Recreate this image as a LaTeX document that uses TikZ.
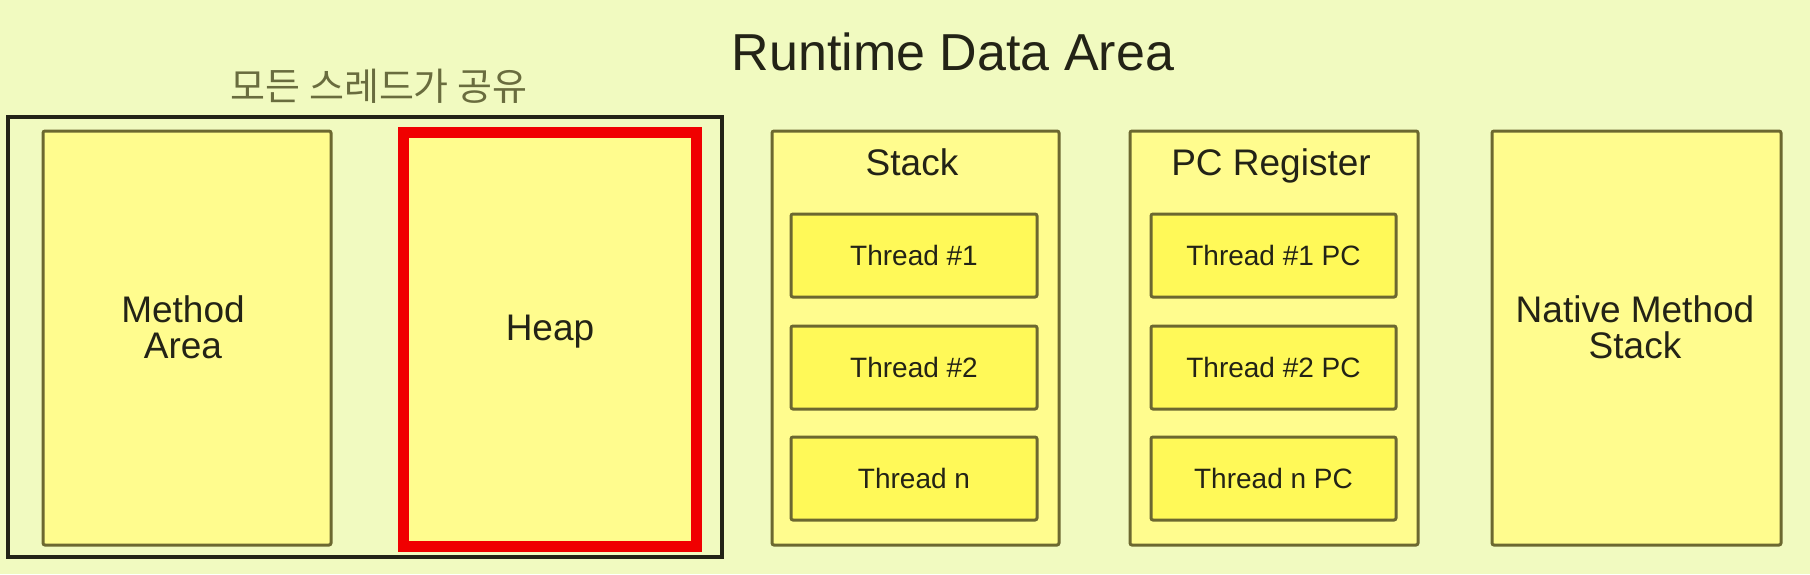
\documentclass[tikz,border=0pt]{standalone}
\usepackage{fontspec}
\setmainfont{Liberation Sans}
\newfontfamily\krfont{Noto Sans CJK KR}
\definecolor{bgYellow}{RGB}{241,250,192}
\definecolor{areaYellow}{RGB}{255,252,142}
\definecolor{threadYellow}{RGB}{255,249,88}
\definecolor{oliveLine}{RGB}{108,104,48}
\definecolor{inkDark}{RGB}{35,35,22}
\definecolor{sharedGray}{RGB}{105,108,62}
\definecolor{heapRed}{RGB}{240,0,0}

\begin{document}
\begin{tikzpicture}[x=1pt,y=-1pt,
  area/.style={rectangle,draw=oliveLine,line width=3pt,fill=areaYellow,rounded corners=2pt,
    minimum width=288pt,minimum height=414pt},
  thread/.style={rectangle,draw=oliveLine,line width=3pt,fill=threadYellow,rounded corners=2pt,
    minimum width=246pt,minimum height=83pt,text=inkDark,font=\fontsize{28}{30}\selectfont},
  arealbl/.style={text=inkDark,align=center,font=\fontsize{37}{36}\selectfont}]
% Background
\fill[bgYellow] (0,0) rectangle (1810,574);
% Title
\node[text=inkDark,font=\fontsize{52}{56}\selectfont] (title) at (953,52) {Runtime Data Area};
% Shared areas
\node[text=sharedGray,font=\krfont\fontsize{38}{42}\selectfont] (shared) at (379,86) {모든 스레드가 공유};
\node[rectangle,draw=inkDark,line width=3.5pt,minimum width=714pt,minimum height=440pt] (sharedbox) at (365,337) {};
\node[area] (method) at (187,338) {};
\node[arealbl] (methodlbl) at (183,327) {Method\\Area};
\node[area,draw=heapRed,line width=11pt,rounded corners=0pt,minimum width=293pt] (heap) at (550,339.5) {};
\node[arealbl] (heaplbl) at (550,332) {Heap};
% Stack
\node[area,minimum width=287pt] (stack) at (915.5,338) {};
\node[arealbl,anchor=base] (stacklbl) at (912,175) {Stack};
\node[thread] (st1) at (914,255.5) {Thread \#1};
\node[thread] (st2) at (914,367.5) {Thread \#2};
\node[thread] (st3) at (914,478.5) {Thread n};
% PC Register
\node[area] (pc) at (1274,338) {};
\node[arealbl,anchor=base] (pclbl) at (1271,175) {PC Register};
\node[thread,minimum width=245pt] (pc1) at (1273.5,255.5) {Thread \#1 PC};
\node[thread,minimum width=245pt] (pc2) at (1273.5,367.5) {Thread \#2 PC};
\node[thread,minimum width=245pt] (pc3) at (1273.5,478.5) {Thread n PC};
% Native method stack
\node[area,minimum width=289pt] (native) at (1636.5,338) {};
\node[arealbl] (nativelbl) at (1635,327) {Native Method\\Stack};
\end{tikzpicture}
\end{document}
